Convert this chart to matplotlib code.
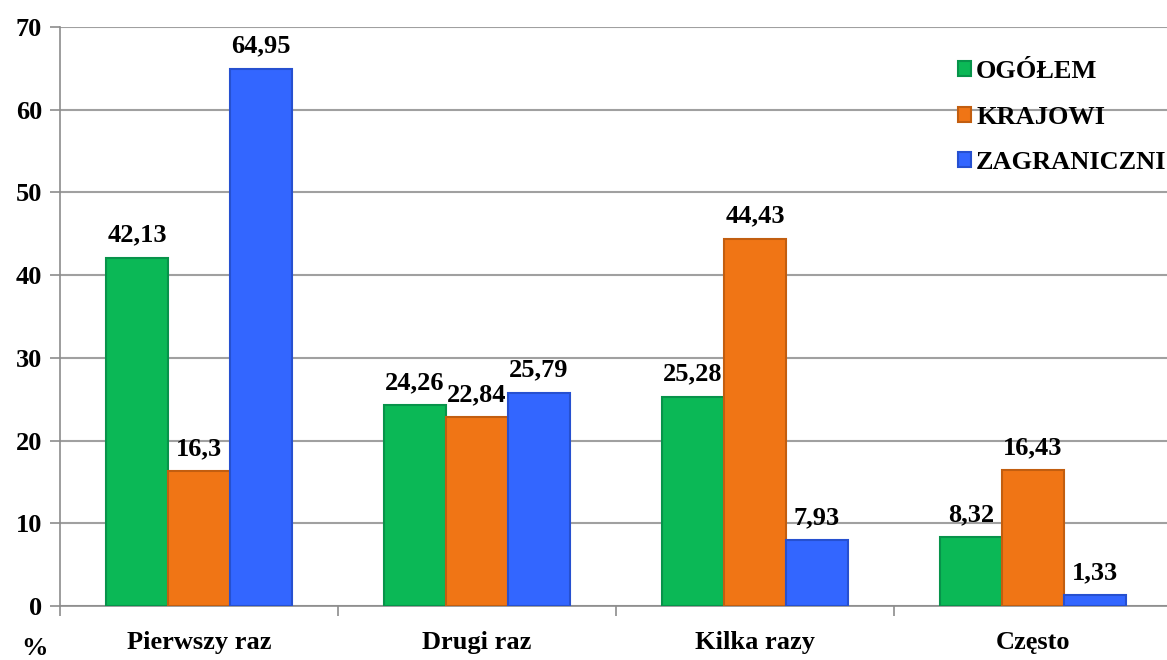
import numpy as np
import matplotlib.pyplot as plt

categories = ['Pierwszy raz', 'Drugi raz', 'Kilka razy', 'Często']
ogolem = [42.13, 24.26, 25.28, 8.32]
krajowi = [16.3, 22.84, 44.43, 16.43]
zagraniczni = [64.95, 25.79, 7.93, 1.33]
series_names = ['OGÓŁEM', 'KRAJOWI', 'ZAGRANICZNI']
colors = ['#0bb856', '#f07515', '#3366ff']
edges = ['#07934a', '#c25e10', '#2650d0']

plt.rcParams['font.family'] = ['Liberation Serif', 'DejaVu Serif']
plt.rcParams['font.weight'] = 'bold'
plt.rcParams['font.size'] = 19

fig = plt.figure(figsize=(11.67, 6.6), dpi=100)
ax = fig.add_axes([60 / 1167, 54 / 660, 1107 / 1167, 579 / 660])

x = np.arange(len(categories))
w = 0.223


def fmt(v):
    s = ('%.2f' % v).rstrip('0').rstrip('.')
    return s.replace('.', ',')


for i, (vals, name) in enumerate(zip([ogolem, krajowi, zagraniczni], series_names)):
    pos = x + (i - 1) * w
    bars = ax.bar(pos, vals, w, color=colors[i], edgecolor=edges[i], linewidth=1.5,
                  label=name, zorder=3)
    for b, v in zip(bars, vals):
        ax.annotate(fmt(v), (b.get_x() + b.get_width() / 2, v), xytext=(0, 8),
                    textcoords='offset points', ha='center', va='bottom',
                    fontweight='bold')

ax.set_ylim(0, 70)
ax.set_yticks(range(0, 71, 10))
ax.set_xlim(-0.5, 3.482)
ax.set_xticks([-0.5, 0.5, 1.5, 2.5])
ax.set_xticklabels([])
ax.set_xticks(x, minor=True)
ax.set_xticklabels(categories, minor=True)
ax.tick_params(axis='x', which='minor', length=0, pad=18)
ax.tick_params(axis='x', which='major', length=7, color='#8c8c8c', width=1.2)
ax.tick_params(axis='y', length=7, color='#8c8c8c', width=1.2, pad=6)
ax.grid(axis='y', color='#a0a0a0', linewidth=1.5, zorder=0)
for s in ['top', 'right']:
    ax.spines[s].set_visible(False)
for s in ['left', 'bottom']:
    ax.spines[s].set_color('#8c8c8c')
    ax.spines[s].set_linewidth(1.2)

leg = ax.legend(loc='upper right', bbox_to_anchor=(1.014, 0.97), frameon=False,
                handlelength=0.5, handleheight=0.5, handletextpad=0.2,
                labelspacing=0.85, borderaxespad=0.2)
fig.text(35 / 1167, 0, '%', ha='center', va='bottom', fontweight='bold')

fig.savefig('out.png', dpi=100)
